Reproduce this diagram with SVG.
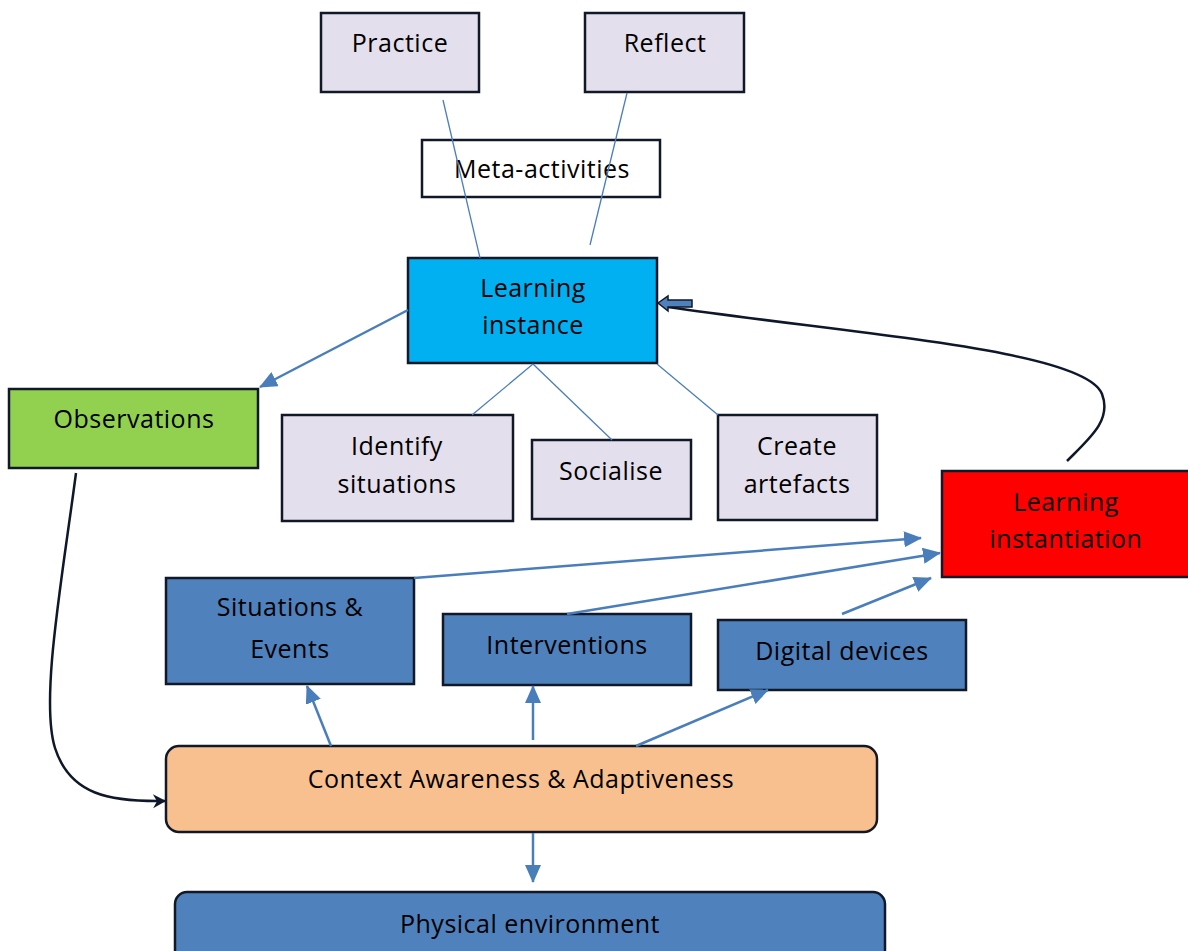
<svg xmlns="http://www.w3.org/2000/svg" width="1188" height="951" viewBox="0 0 1188 951">
<defs>
<style>
.n{stroke:#111827;stroke-width:2.5}
.lav{fill:#e4dfec}
.blue{fill:#4f81bd}
.t{font-family:"Open Sans","Liberation Sans",sans-serif;font-size:25px;letter-spacing:0.5px;fill:#000;text-anchor:middle}
.thin{stroke:#4a7ebb;stroke-width:1.3;fill:none}
.arr{stroke:#4a7ebb;stroke-width:2.5;fill:none;marker-end:url(#ah)}
.blk{stroke:#0f172a;stroke-width:2.5;fill:none}
</style>
<marker id="ah" markerUnits="userSpaceOnUse" markerWidth="20" markerHeight="16" refX="17" refY="8" orient="auto">
<path d="M0,0 L18,8 L0,16 Z" fill="#4a7ebb"/>
</marker>
<marker id="bh" markerUnits="userSpaceOnUse" markerWidth="16" markerHeight="16" refX="13" refY="8" orient="auto">
<path d="M1,1 L14,8 L1,15 L5,8 Z" fill="#0f172a"/>
</marker>
</defs>
<g id="practice"><rect class="n lav" x="321" y="13" width="158" height="79"/><text class="t" x="400" y="52">Practice</text></g>
<g id="reflect"><rect class="n lav" x="585" y="13" width="159" height="79"/><text class="t" x="665" y="52">Reflect</text></g>
<g id="meta"><rect class="n" fill="#fff" x="422" y="140" width="238" height="57"/><text class="t" x="542" y="178">Meta-activities</text></g>
<g id="learning-instance"><rect class="n" fill="#00b0f0" x="408" y="258" width="249" height="105"/><text class="t" x="533" y="297">Learning</text><text class="t" x="533" y="334">instance</text></g>
<g id="observations"><rect class="n" fill="#92d050" x="9" y="389" width="249" height="79"/><text class="t" x="134" y="428">Observations</text></g>
<g id="identify"><rect class="n lav" x="282" y="415" width="231" height="106"/><text class="t" x="397" y="455">Identify</text><text class="t" x="397" y="493">situations</text></g>
<g id="socialise"><rect class="n lav" x="532" y="440" width="159" height="79"/><text class="t" x="611" y="480">Socialise</text></g>
<g id="create"><rect class="n lav" x="718" y="415" width="159" height="105"/><text class="t" x="797" y="455">Create</text><text class="t" x="797" y="493">artefacts</text></g>
<g id="learning-instantiation"><rect class="n" fill="#ff0000" x="942" y="471" width="248" height="106"/><text class="t" x="1066" y="511">Learning</text><text class="t" x="1066" y="548">instantiation</text></g>
<g id="situations"><rect class="n blue" x="166" y="578" width="248" height="106"/><text class="t" x="290" y="616">Situations &amp;</text><text class="t" x="290" y="658">Events</text></g>
<g id="interventions"><rect class="n blue" x="443" y="614" width="248" height="71"/><text class="t" x="567" y="654">Interventions</text></g>
<g id="digital"><rect class="n blue" x="718" y="620" width="248" height="70"/><text class="t" x="842" y="660">Digital devices</text></g>
<g id="context"><rect class="n" fill="#f9c08f" x="166" y="746" width="711" height="86" rx="13"/><text class="t" x="521" y="788">Context Awareness &amp; Adaptiveness</text></g>
<g id="physical"><rect class="n blue" x="175" y="892" width="710" height="70" rx="12"/><text class="t" x="530" y="933">Physical environment</text></g>
<g id="connectors">
<line class="thin" x1="443" y1="100" x2="480" y2="258"/>
<line class="thin" x1="627" y1="93" x2="590" y2="245"/>
<line class="thin" x1="533" y1="364" x2="472" y2="415"/>
<line class="thin" x1="533" y1="364" x2="612" y2="440"/>
<line class="thin" x1="657" y1="364" x2="718" y2="415"/>
<line class="arr" x1="408" y1="310" x2="260" y2="387"/>
<line class="arr" x1="414" y1="578" x2="921" y2="538"/>
<line class="arr" x1="567" y1="614" x2="940" y2="553"/>
<line class="arr" x1="842" y1="614" x2="931" y2="578"/>
<line class="arr" x1="331" y1="746" x2="307" y2="686"/>
<line class="arr" x1="533" y1="740" x2="533" y2="686"/>
<line class="arr" x1="636" y1="746" x2="768" y2="690"/>
<line class="arr" x1="533" y1="833" x2="533" y2="882"/>
<path class="blk" marker-end="url(#bh)" d="M76,473 C62,580 40,700 55,748 C70,795 110,802 165,801"/>
<path class="blk" d="M1067,461 C1090,438 1112,420 1102,394 C1085,350 860,335 668,307"/>
<path d="M658,303 L668,296 L668,300 L692,300 L692,307 L668,307 L668,311 Z" fill="#4f81bd" stroke="#111827" stroke-width="1.5"/>
</g>
</svg>
